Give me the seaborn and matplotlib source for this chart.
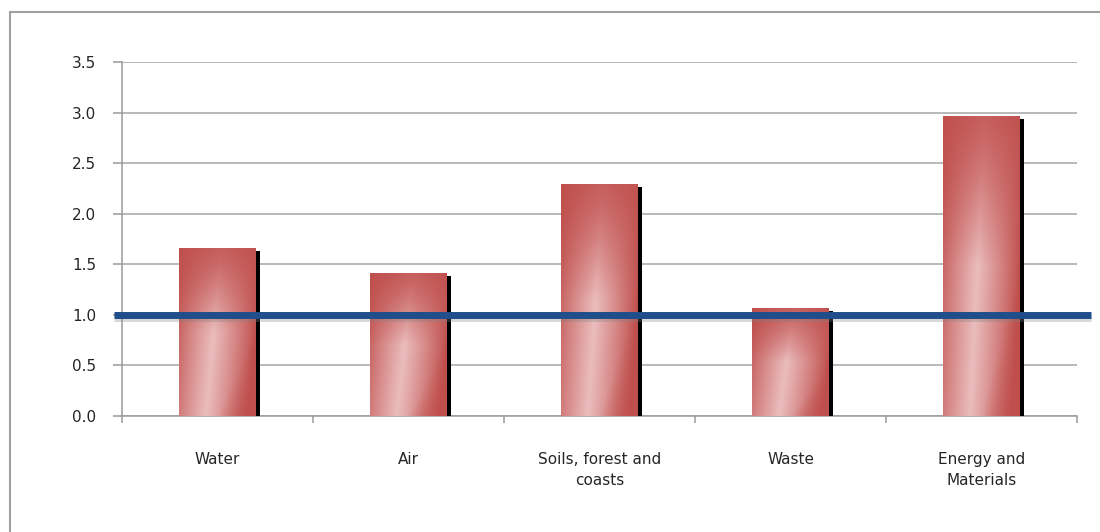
import numpy as np
import pandas as pd
import matplotlib
matplotlib.use("Agg")
import matplotlib.pyplot as plt
import matplotlib.patheffects as pe
from matplotlib.lines import Line2D
import seaborn as sns

categories = ["Water", "Air", "Soils, forest and\ncoasts", "Waste", "Energy and\nMaterials"]
values = [1.66, 1.41, 2.29, 1.07, 2.97]
reference_value = 1.0
y_ticks = [0.0, 0.5, 1.0, 1.5, 2.0, 2.5, 3.0, 3.5]

sns.set_theme(style="white")
plt.rcParams["font.family"] = ["DejaVu Sans"]

fig = plt.figure(figsize=(11, 5.32), dpi=100)
ax = fig.add_axes([122 / 1100, 1 - 416 / 532, (1077 - 122) / 1100, (416 - 62) / 532])

df = pd.DataFrame({"category": categories, "value": values})
sns.barplot(data=df, x="category", y="value", ax=ax, width=0.4,
            color="#C0504D", edgecolor="none", zorder=3)

# gradient image for bar fill
nx, ny = 120, 240
gx = np.linspace(0, 1, nx)[None, :]
gy = np.linspace(0, 1, ny)[:, None]
center = 0.55 - 0.2 * gy
h = np.clip(1 - np.abs(gx - center) / 0.55, 0, 1) ** 0.9
v = np.clip(gy / 0.5, 0, 1) ** 1.2
diag = np.clip((gx + gy - 1.5) / 0.45, 0, 1)
light = np.clip(h * (0.15 + 0.85 * v) * (1 - 0.85 * diag), 0, 1)
dark = np.array([0.75, 0.31, 0.30])
lite = np.array([0.92, 0.74, 0.74])
img = dark[None, None, :] + (lite - dark)[None, None, :] * light[..., None]

ax.set_ylim(0, 3.5)
ax.set_xlim(-0.5, len(categories) - 0.5)
for p in ax.patches:
    p.set_path_effects([pe.SimplePatchShadow(offset=(3.0, -2.2), shadow_rgbFace="black", alpha=1.0),
                        pe.Normal()])
    x0, y0 = p.get_x(), p.get_y()
    w, ht = p.get_width(), p.get_height()
    im = ax.imshow(img, extent=(x0, x0 + w, y0, y0 + ht), aspect="auto",
                   origin="upper", zorder=4, interpolation="bilinear")
    im.set_clip_path(p)
ax.set_ylim(0, 3.5)
ax.set_xlim(-0.5, len(categories) - 0.5)

# reference line
ax.plot([-0.542, len(categories) - 0.5 + 0.073], [reference_value, reference_value],
        color="#1F4E8A", lw=5, solid_capstyle="butt", clip_on=False, zorder=6,
        path_effects=[pe.SimpleLineShadow(offset=(0, -2.5), shadow_color="gray", alpha=0.3), pe.Normal()])

# axes styling
ax.set_yticks(y_ticks)
ax.set_yticklabels([f"{t:.1f}" for t in y_ticks])
ax.yaxis.grid(True, color="#A6A6A6", lw=1.1, zorder=0)
ax.xaxis.grid(False)
ax.set_axisbelow(True)
for s in ["top", "right"]:
    ax.spines[s].set_visible(False)
for s in ["left", "bottom"]:
    ax.spines[s].set_color("#9A9A9A")
    ax.spines[s].set_linewidth(1.1)
ax.tick_params(axis="y", left=True, length=6.5, width=1.1, color="#9A9A9A",
               pad=12, labelsize=11, labelcolor="#262626")
ax.set_xticks(range(len(categories)))
ax.set_xticklabels(categories, fontsize=11, color="#262626", linespacing=1.5)
ax.set_xticks(np.arange(-0.5, len(categories)), minor=True)
ax.tick_params(axis="x", which="major", length=0, pad=26)
ax.tick_params(axis="x", which="minor", bottom=True, length=5, width=1.1, color="#9A9A9A")
ax.set_xlabel("")
ax.set_ylabel("")

# outer chart border (top and left visible)
fig.add_artist(Line2D([10 / 1100, 1.0], [1 - 12 / 532, 1 - 12 / 532], color="#A0A0A0", lw=1.5,
                      transform=fig.transFigure))
fig.add_artist(Line2D([10 / 1100, 10 / 1100], [0, 1 - 12 / 532], color="#A0A0A0", lw=1.5,
                      transform=fig.transFigure))

fig.savefig("out.png", dpi=100)
